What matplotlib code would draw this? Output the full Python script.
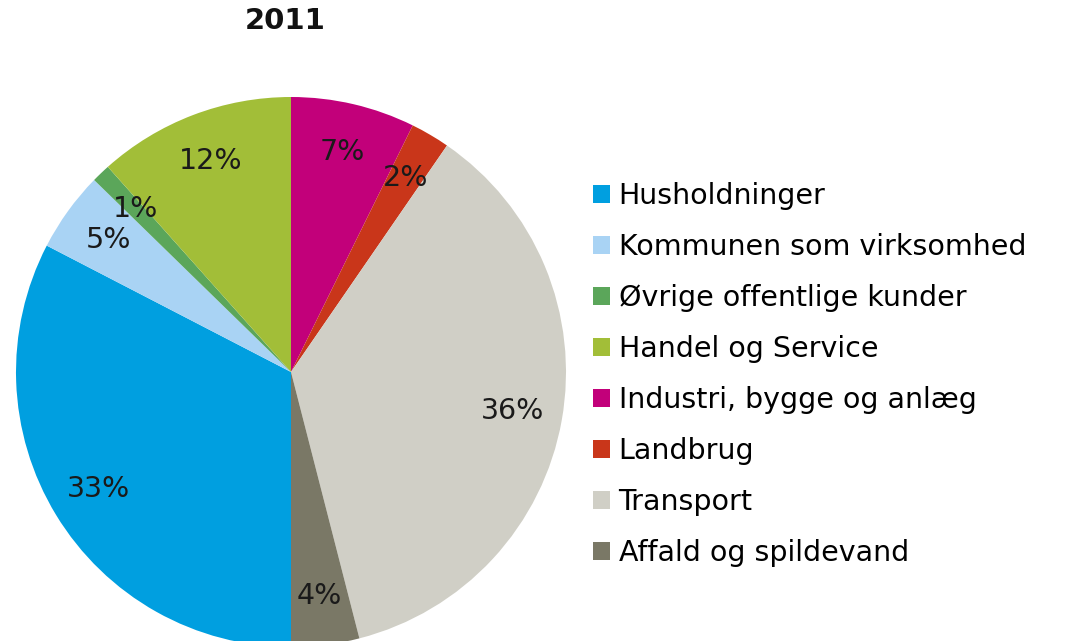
import matplotlib
matplotlib.use('Agg')
import matplotlib.pyplot as plt

# shares (%), in legend order
categories = ['Husholdninger', 'Kommunen som virksomhed', 'Øvrige offentlige kunder',
              'Handel og Service', 'Industri, bygge og anlæg', 'Landbrug',
              'Transport', 'Affald og spildevand']
shares = [32.6, 4.7, 1.1, 11.6, 7.3, 2.3, 36.4, 4.0]
colors = ['#009fe0', '#a9d3f4', '#5ba65a', '#a2be38',
          '#c2007a', '#c9361a', '#d0cfc6', '#7a7866']

plt.rcParams['font.family'] = 'DejaVu Sans'
fig = plt.figure(figsize=(10.65, 6.41), dpi=100)

# square axes, pie centre ~ (291, 372) px, radius ~275 px
ax = fig.add_axes([16 / 1065, -6 / 641, 550 / 1065, 550 / 641])
wedges, texts, autotexts = ax.pie(
    shares, colors=colors, startangle=-90, counterclock=False,
    autopct='%.0f%%', pctdistance=0.82,
    wedgeprops=dict(linewidth=0),
    textprops=dict(fontsize=20.5, color='#1a1a1a'))
ax.set_xlim(-1, 1)
ax.set_ylim(-1, 1)
ax.set_aspect('equal')
ax.axis('off')

fig.text(285 / 1065, 1 - 21 / 641, '2011', ha='center', va='center',
         fontsize=21, fontweight='bold', color='#111111')

fig.legend(wedges, categories, loc='upper left',
           bbox_to_anchor=(593 / 1065, 1 - 182 / 641),
           frameon=False, fontsize=20.5, handlelength=0.6, handleheight=0.6,
           handletextpad=0.3, labelspacing=0.81, borderpad=0, borderaxespad=0)

fig.savefig('out.png', dpi=100)
